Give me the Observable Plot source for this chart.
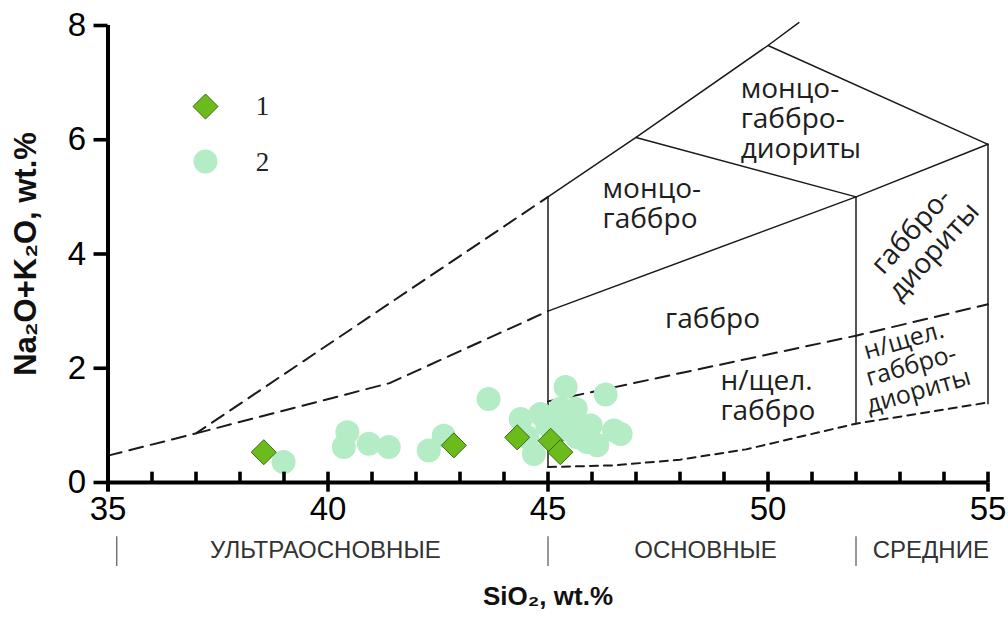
<!DOCTYPE html>
<html><head><meta charset="utf-8">
<script src="https://cdn.jsdelivr.net/npm/d3@7"></script>
<script src="https://cdn.jsdelivr.net/npm/@observablehq/plot@0.6"></script>
<style>
html,body{margin:0;padding:0;background:#fff;}
#chart svg{display:block;}
</style></head><body><div id="chart"></div>
<script>
// ---- data (SiO2 wt.%, Na2O+K2O wt.%) ----
const series1 = [[38.54,0.53],[42.86,0.65],[44.30,0.79],[45.06,0.73],[45.28,0.53]];
const series2 = [
  [38.99,0.36],[40.44,0.88],[40.36,0.62],[40.93,0.68],[41.38,0.62],[42.29,0.56],[42.63,0.82],
  [43.65,1.46],[45.40,1.67],[46.31,1.54],[44.38,1.11],[44.83,1.20],[45.28,1.29],[45.63,1.29],
  [44.98,1.00],[45.51,1.03],[45.97,1.00],[46.50,0.91],[46.65,0.85],[44.68,0.50],[45.89,0.71],
  [45.66,0.79],[46.12,0.65],[44.53,0.79],[45.28,0.91]
];
const legendLabels = ["1","2"];
const xTicks = [35,40,45,50,55];
const xMinorTicks = d3.range(35,56);
const yTicks = [0,2,4,6,8];
// field boundaries
const solidLines = [
  [[45,5.0],[47,6.04],[50,7.65],[50.7,8.05]],
  [[47,6.04],[52,5.0],[55,5.92]],
  [[50,7.65],[55,5.92]],
  [[45,0.27],[45,5.0]],
  [[45,3.0],[52,5.0]],
  [[52,1.03],[52,5.0]],
  [[55,1.38],[55,5.92]]
];
const dashedLines = [
  [[35,0.47],[37,0.86],[45,5.0]],
  [[37,0.86],[41.4,1.74],[45,3.0]],
  [[45,1.42],[52,2.57],[55,3.12]]
];
const dottedLines = [
  [[45,0.27],[46.5,0.3],[48,0.4],[49.5,0.58],[50.5,0.76],[52,1.03],[55,1.4]]
];
const fieldLabelsLeft = [
  {x:49.38, y:6.37, text:"монцо-\nгаббро-\nдиориты"},
  {x:46.24, y:4.88, text:"монцо-\nгаббро"},
  {x:48.92, y:1.52, text:"н/щел.\nгаббро"}
];
const fieldLabelsMid = [
  {x:48.74, y:2.87, text:"габбро", rotate:0},
  {x:53.50, y:4.23, text:"габбро-\nдиориты", rotate:-48}
];
const fieldLabelsSmall = [
  {x:53.25, y:2.05, text:"н/щел.\nгаббро-\nдиориты", rotate:-16}
];
const groups = [
  {x:39.94, text:"УЛЬТРАОСНОВНЫЕ"},
  {x:48.58, text:"ОСНОВНЫЕ"},
  {x:53.70, text:"СРЕДНИЕ"}
];
const groupBounds = [35.2, 45, 52];
const xTitle = "SiO₂, wt.%";
const yTitle = "Na₂O+K₂O, wt.%";

const toPts = lines => lines.flatMap((l,i)=>l.map(p=>({x:p[0],y:p[1],id:i})));
const sans = "'Liberation Sans',Arial,sans-serif";
const labelFont = "'Open Sans',sans-serif";
const axisW = 3.6;

const chart = Plot.plot({
  width: 1008, height: 617,
  marginLeft: 107.5, marginRight: 20.5, marginTop: 25, marginBottom: 135,
  style: {fontFamily: sans, background: "#fff", color: "#000"},
  x: {domain: [35,55]},
  y: {domain: [0,8]},
  marks: [
    Plot.line(toPts(solidLines), {x:"x", y:"y", z:"id", stroke:"#1a1a1a", strokeWidth:1.5}),
    Plot.line(toPts(dashedLines), {x:"x", y:"y", z:"id", stroke:"#1a1a1a", strokeWidth:2, strokeDasharray:"14,8"}),
    Plot.line(toPts(dottedLines), {x:"x", y:"y", z:"id", stroke:"#1a1a1a", strokeWidth:2, strokeDasharray:"8,6"}),
    Plot.text(fieldLabelsLeft, {x:"x", y:"y", text:"text", textAnchor:"start", fontSize:28, fill:"#1e1e1e", fontFamily:labelFont, lineHeight:1.07}),
    Plot.text(fieldLabelsMid, {x:"x", y:"y", text:"text", rotate:"rotate", fontSize:28, fill:"#1e1e1e", fontFamily:labelFont, lineHeight:1.07}),
    Plot.text(fieldLabelsSmall, {x:"x", y:"y", text:"text", rotate:"rotate", fontSize:25, fill:"#1e1e1e", fontFamily:labelFont, lineHeight:1.05}),
    Plot.dot(series2, {x:d=>d[0], y:d=>d[1], r:12, fill:"#b4ecc6", stroke:"none"}),
    Plot.dot(series1, {x:d=>d[0], y:d=>d[1], r:11.3, symbol:"diamond2", fill:"#6cbb1d", stroke:"#3b6a12", strokeWidth:1}),
    // legend
    Plot.dot([legendLabels[0]], {frameAnchor:"top-left", dx:97.5, dy:81, r:11.3, symbol:"diamond2", fill:"#6cbb1d", stroke:"#3b6a12", strokeWidth:1}),
    Plot.dot([legendLabels[1]], {frameAnchor:"top-left", dx:97.5, dy:136, r:12, fill:"#b4ecc6"}),
    Plot.text([legendLabels[0]], {frameAnchor:"top-left", dx:154.5, dy:81, text:d=>d, textAnchor:"middle", lineAnchor:"middle", fontSize:27, fontFamily:"'Liberation Serif',serif", fill:"#222"}),
    Plot.text([legendLabels[1]], {frameAnchor:"top-left", dx:154.5, dy:137, text:d=>d, textAnchor:"middle", lineAnchor:"middle", fontSize:27, fontFamily:"'Liberation Serif',serif", fill:"#222"}),
    // axes
    Plot.link(xMinorTicks, {x1:d=>d, x2:d=>d, y1:0, y2:0.19, strokeWidth:axisW, stroke:"black"}),
    Plot.link(xTicks, {x1:d=>d, x2:d=>d, y1:0, y2:-0.16, strokeWidth:axisW, stroke:"black"}),
    Plot.axisX({ticks:xTicks, tickSize:0, tickPadding:14, fontSize:33, label:null}),
    Plot.axisY({ticks:yTicks, tickSize:14, strokeWidth:axisW, stroke:"black", tickPadding:8, fontSize:33, label:null}),
    Plot.ruleY([0], {x1:35, x2:55, strokeWidth:4, stroke:"black"}),
    Plot.ruleX([35], {y1:-0.16, y2:8, strokeWidth:4, stroke:"black"}),
    // rock groups
    Plot.ruleX(groupBounds, {x:d=>d, y1:-0.95, y2:-1.47, stroke:"#333", strokeWidth:1}),
    Plot.text(groups, {x:"x", y:-1.19, text:"text", fontSize:24, fill:"#333"}),
    // titles
    Plot.text([xTitle], {frameAnchor:"bottom", dy:122, text:d=>d, textAnchor:"middle", fontSize:26, fontWeight:"bold", fill:"#111"}),
    Plot.text([yTitle], {frameAnchor:"left", dx:-82, rotate:-90, text:d=>d, textAnchor:"middle", fontSize:31, fontWeight:"bold", fill:"#111"})
  ]
});
document.getElementById("chart").appendChild(chart);
</script></body></html>
